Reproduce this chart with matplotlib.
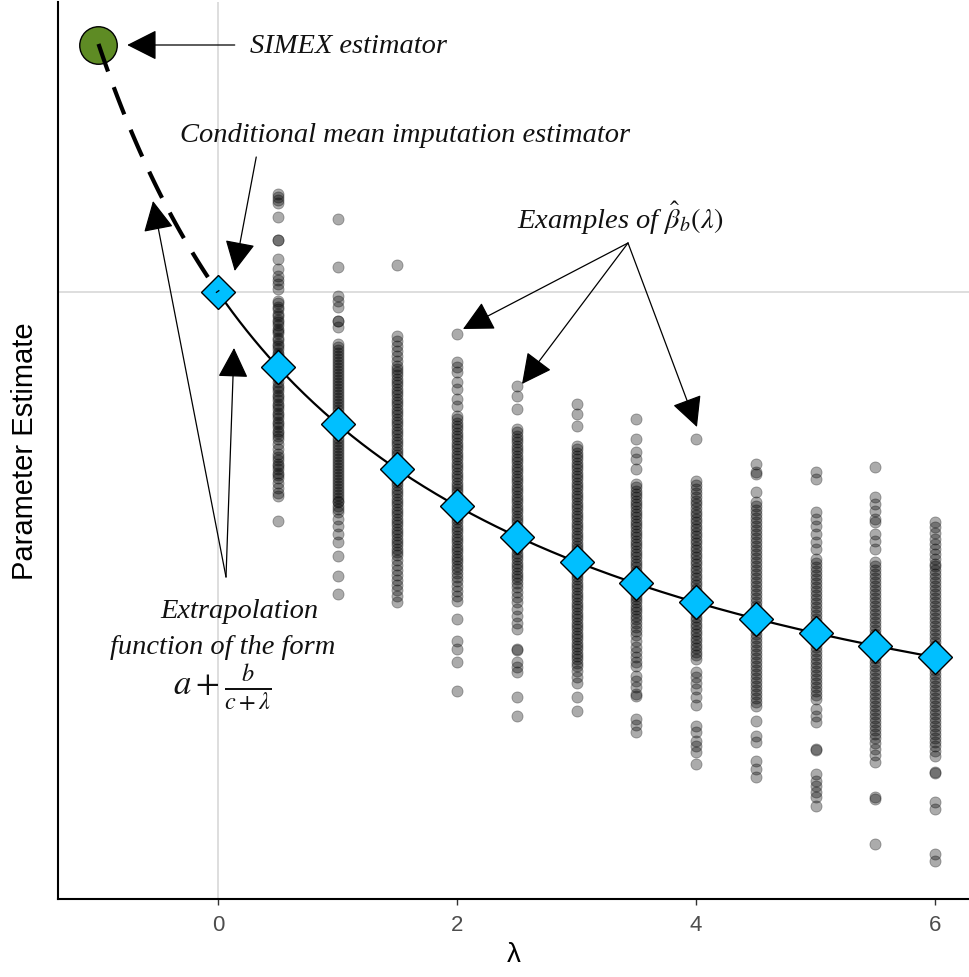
import numpy as np
import matplotlib.pyplot as plt

# mean estimate at each lambda (naive / conditional mean imputation at lambda = 0)
lambdas = [0, 0.5, 1, 1.5, 2, 2.5, 3, 3.5, 4, 4.5, 5, 5.5, 6]
mean_est = [6.07, 5.32, 4.75, 4.30, 3.93, 3.62, 3.37, 3.16, 2.97, 2.80, 2.66, 2.53, 2.42]

simex_lambda = -1
simex_est = 8.54

# bootstrap estimates beta_b(lambda) for each lambda
est_05 = [7.05, 7.02, 6.99, 6.96, 6.82, 6.59, 6.59, 6.40, 6.30, 6.23, 6.19, 6.15, 6.10,
          5.98, 5.96, 5.92, 5.90, 5.85, 5.83, 5.79, 5.77, 5.74, 5.70, 5.68, 5.66, 5.61,
          5.59, 5.55, 5.53, 5.50, 5.46, 5.44, 5.41, 5.37, 5.33, 5.31, 5.27, 5.23, 5.21,
          5.17, 5.13, 5.11, 5.08, 5.04, 5.02, 4.99, 4.95, 4.93, 4.90, 4.86, 4.84, 4.81,
          4.77, 4.75, 4.72, 4.68, 4.66, 4.63, 4.60, 4.55, 4.50, 4.45, 4.42, 4.39, 4.35,
          4.33, 4.30, 4.26, 4.24, 4.21, 4.16, 4.11, 4.06, 4.03, 3.78]
est_10 = [6.80, 6.32, 6.03, 5.98, 5.92, 5.78, 5.78, 5.72,
          5.55, 5.52, 5.49, 5.46, 5.43, 5.40, 5.37, 5.34, 5.31, 5.28, 5.25, 5.22, 5.19,
          5.16, 5.13, 5.10, 5.07, 5.04, 5.01, 4.98, 4.95, 4.92, 4.89, 4.85, 4.81, 4.77,
          4.73, 4.69, 4.65, 4.61, 4.58, 4.55, 4.52, 4.49, 4.46, 4.43, 4.40, 4.37, 4.34,
          4.31, 4.28, 4.25, 4.22, 4.19, 4.16, 4.13, 4.10, 4.07, 4.04, 4.01, 3.98, 3.97,
          3.93, 3.90, 3.87, 3.80, 3.73, 3.65, 3.57, 3.43, 3.23, 3.05]
est_15 = [6.34, 5.63, 5.58, 5.53, 5.48, 5.43, 5.38,
          5.33, 5.30, 5.27, 5.24, 5.20, 5.17, 5.14, 5.10, 5.07, 5.04, 5.00, 4.97, 4.94,
          4.90, 4.87, 4.84, 4.80, 4.77, 4.74, 4.70, 4.67, 4.64, 4.60, 4.57, 4.54, 4.50,
          4.47, 4.44, 4.40, 4.37, 4.34, 4.30, 4.27, 4.24, 4.20, 4.17, 4.14, 4.10, 4.07,
          4.04, 4.00, 3.97, 3.94, 3.90, 3.87, 3.84, 3.80, 3.77, 3.74, 3.70, 3.67, 3.64,
          3.60, 3.57, 3.54, 3.50, 3.47, 3.44,
          3.39, 3.34, 3.29, 3.24, 3.19, 3.14, 3.09, 3.03, 2.97]
est_20 = [5.65, 5.37, 5.32, 5.27, 5.17, 5.10, 5.00, 4.93,
          4.83, 4.80, 4.76, 4.73, 4.70, 4.66, 4.63, 4.60, 4.56, 4.53, 4.50, 4.46, 4.43,
          4.40, 4.36, 4.33, 4.30, 4.26, 4.23, 4.20, 4.16, 4.13, 4.10, 4.07,
          4.03, 3.98, 3.93, 3.88, 3.83,
          3.80, 3.77, 3.73, 3.70, 3.67, 3.63, 3.60, 3.57, 3.53, 3.50, 3.47, 3.43, 3.40,
          3.37, 3.33, 3.30, 3.26, 3.22, 3.18, 3.13, 3.08, 3.03, 2.98,
          2.80, 2.58, 2.50, 2.37, 2.08]
est_25 = [5.13, 5.03, 4.90,
          4.70, 4.67, 4.63, 4.60, 4.57, 4.53, 4.50, 4.47, 4.43, 4.40, 4.37, 4.33, 4.30,
          4.27, 4.23, 4.20, 4.17, 4.13, 4.10, 4.07, 4.03, 4.00, 3.97, 3.93, 3.90, 3.87,
          3.83, 3.80, 3.77, 3.73, 3.70, 3.66, 3.62, 3.58,
          3.53, 3.50, 3.46, 3.43, 3.40, 3.36, 3.33, 3.30, 3.26, 3.23, 3.20, 3.16, 3.12,
          3.07, 3.02, 2.97, 2.90, 2.83, 2.76, 2.70,
          2.50, 2.49, 2.37, 2.32, 2.27, 2.02, 1.83]
est_30 = [4.95, 4.85, 4.73,
          4.53, 4.50, 4.46, 4.43, 4.40, 4.36, 4.33, 4.30, 4.26, 4.23, 4.20, 4.16, 4.13,
          4.10, 4.06, 4.03, 4.00, 3.96, 3.93, 3.90, 3.86, 3.83, 3.80, 3.76, 3.73, 3.70,
          3.66, 3.63, 3.60, 3.56, 3.53, 3.50, 3.46, 3.43, 3.40,
          3.33, 3.30, 3.26, 3.23, 3.20, 3.16, 3.13, 3.10, 3.06, 3.03, 3.00, 2.96, 2.93,
          2.90, 2.86, 2.83, 2.80, 2.76, 2.73, 2.70, 2.66, 2.63, 2.60, 2.56, 2.53, 2.50,
          2.46, 2.43, 2.40, 2.36, 2.33, 2.28, 2.22, 2.16,
          2.02, 1.88]
est_35 = [4.80, 4.60, 4.47, 4.40, 4.30,
          4.15, 4.12, 4.08, 4.05, 4.02, 3.98, 3.95, 3.92, 3.88, 3.85, 3.82, 3.78, 3.75,
          3.72, 3.68, 3.65, 3.62, 3.58, 3.55, 3.52, 3.48, 3.45, 3.42, 3.38, 3.35, 3.32,
          3.28, 3.25, 3.22,
          3.10, 3.07, 3.03, 3.00, 2.97, 2.93, 2.90, 2.87, 2.83, 2.80, 2.76, 2.72, 2.68,
          2.64, 2.58, 2.52, 2.47, 2.42, 2.37, 2.33,
          2.23, 2.18, 2.12, 2.05, 2.03, 1.80, 1.74, 1.67]
est_40 = [4.60,
          4.18, 4.14, 4.10, 4.06, 4.02, 3.98, 3.95, 3.91, 3.87, 3.84, 3.80, 3.77, 3.73,
          3.70, 3.66, 3.63, 3.59, 3.56, 3.52, 3.49, 3.45, 3.42, 3.38, 3.35, 3.31, 3.28,
          3.24, 3.21, 3.17, 3.14, 3.10, 3.07, 3.03, 3.00, 2.96, 2.93, 2.89, 2.86, 2.82,
          2.79, 2.75, 2.72, 2.68, 2.65, 2.61, 2.58, 2.54, 2.51, 2.47, 2.44, 2.40,
          2.27, 2.22, 2.16, 2.10, 2.02, 1.94,
          1.73, 1.67, 1.58, 1.53, 1.47, 1.35]
est_45 = [4.35, 4.27, 4.25, 4.07,
          3.97, 3.93, 3.89, 3.85, 3.81, 3.77, 3.73, 3.69, 3.65, 3.61, 3.57, 3.53, 3.49,
          3.45, 3.41, 3.37, 3.33, 3.29, 3.25, 3.21, 3.17, 3.13, 3.09, 3.05, 3.01, 2.97,
          2.93, 2.89, 2.85, 2.81, 2.77, 2.73, 2.69, 2.65, 2.61, 2.57, 2.53, 2.49, 2.45,
          2.41, 2.37, 2.33, 2.29, 2.25, 2.21, 2.17, 2.13, 2.09, 2.05, 2.01, 1.97, 1.93,
          1.78, 1.63, 1.57, 1.38, 1.30, 1.22]
est_50 = [4.27, 4.20, 3.87, 3.80, 3.73, 3.65, 3.57, 3.50,
          3.40, 3.36, 3.32, 3.28, 3.24, 3.20, 3.16, 3.12, 3.08, 3.04, 3.00, 2.96, 2.92,
          2.88, 2.84, 2.80, 2.76, 2.72, 2.68, 2.64, 2.60, 2.56, 2.52, 2.48, 2.44, 2.40,
          2.36, 2.32, 2.28, 2.24, 2.20, 2.16, 2.12, 2.08, 2.04, 2.00,
          1.90, 1.83, 1.77, 1.50, 1.49, 1.25, 1.18, 1.13, 1.07, 1.02, 0.93]
est_55 = [4.32, 4.02, 3.95, 3.88, 3.80, 3.77, 3.65, 3.58, 3.50,
          3.37, 3.33, 3.29, 3.25, 3.21, 3.17, 3.13, 3.09, 3.05, 3.01, 2.97, 2.93, 2.89,
          2.85, 2.81, 2.77, 2.73, 2.69, 2.65, 2.61, 2.57, 2.53, 2.49, 2.45, 2.41, 2.37,
          2.33, 2.29, 2.25, 2.21, 2.17, 2.13, 2.09, 2.05, 2.01, 1.97, 1.93, 1.89, 1.85,
          1.81, 1.77, 1.73, 1.69, 1.65, 1.61, 1.56, 1.50, 1.44, 1.37,
          1.02, 1.00, 0.55]
est_60 = [3.77, 3.72, 3.66, 3.60, 3.55, 3.50, 3.45, 3.40, 3.35,
          3.33, 3.29, 3.25, 3.21, 3.17, 3.13, 3.09, 3.05, 3.01, 2.97, 2.93, 2.89, 2.85,
          2.81, 2.77, 2.73, 2.69, 2.65, 2.61, 2.57, 2.53, 2.49, 2.45, 2.41, 2.37, 2.33,
          2.29, 2.25, 2.21, 2.17, 2.13, 2.09, 2.05, 2.01, 1.97, 1.93, 1.89, 1.85, 1.81,
          1.77, 1.73, 1.69, 1.65, 1.61, 1.57, 1.53, 1.48, 1.43,
          1.27, 1.26, 0.97, 0.90, 0.45, 0.38]

boot_lambdas = [0.5, 1, 1.5, 2, 2.5, 3, 3.5, 4, 4.5, 5, 5.5, 6]
boot_est = [est_05, est_10, est_15, est_20, est_25, est_30,
            est_35, est_40, est_45, est_50, est_55, est_60]

plt.rcParams['mathtext.fontset'] = 'stix'
note = dict(family='Liberation Serif', style='italic', fontsize=20.5, color='#111111')

fig = plt.figure(figsize=(9.69, 9.78), dpi=100)
ax = fig.add_axes([58 / 969, 78 / 978, 911 / 969, 897 / 978])

# reference lines through lambda = 0 and the naive estimate
ax.axvline(0, color='#d4d4d4', lw=1.1, zorder=0)
ax.axhline(mean_est[0], color='#d4d4d4', lw=1.1, zorder=0)

for lam, vals in zip(boot_lambdas, boot_est):
    ax.scatter(np.full(len(vals), lam), vals, s=64, color='black', alpha=0.33,
               linewidths=0.6, edgecolors='black', zorder=2)

# fit a + b / (c + lambda) to the mean estimates
lam_arr = np.array(lambdas)
est_arr = np.array(mean_est)
best = None
for c in np.linspace(0.2, 15, 3000):
    X = np.column_stack([np.ones_like(lam_arr), 1 / (c + lam_arr)])
    coef = np.linalg.lstsq(X, est_arr, rcond=None)[0]
    sse = ((X @ coef - est_arr) ** 2).sum()
    if best is None or sse < best[0]:
        best = (sse, coef[0], coef[1], c)
_, a, b, c = best

lam_fit = np.linspace(0, 6, 300)
ax.plot(lam_fit, a + b / (c + lam_fit), color='black', lw=1.6, zorder=3)
lam_ext = np.linspace(simex_lambda, 0, 100)
ax.plot(lam_ext, a + b / (c + lam_ext), color='black', lw=3, linestyle=(0, (7, 4)),
        solid_capstyle='butt', zorder=6)

ax.plot(lambdas, mean_est, 'D', ms=17, mfc='#00BFFF', mec='black', mew=1, zorder=4)
ax.plot(simex_lambda, simex_est, 'o', ms=27, mfc='#5E8B24', mec='black', mew=1, zorder=5)

# annotations
arrow = dict(arrowstyle='-|>,head_length=0.95,head_width=0.48', mutation_scale=20,
             color='black', lw=0.9, shrinkA=0, shrinkB=0)

ax.text(0.27, 8.54, 'SIMEX estimator', ha='left', va='center', **note)
ax.annotate('', xy=(-0.76, 8.54), xytext=(0.14, 8.54), arrowprops=arrow, zorder=7)

ax.text(1.565, 7.65, 'Conditional mean imputation estimator', ha='center', va='center', **note)
ax.annotate('', xy=(0.14, 6.28), xytext=(0.32, 7.42), arrowprops=arrow, zorder=7)

ax.text(2.5, 6.82, r'Examples of $\hat{\beta}_b(\lambda)$', ha='left', va='center', **note)
for tip in [(2.05, 5.70), (2.544, 5.15), (4.008, 4.72)]:
    ax.annotate('', xy=tip, xytext=(3.431, 6.56), arrowprops=arrow, zorder=7)

ax.text(0.18, 2.88, 'Extrapolation', ha='center', va='center', **note)
ax.text(0.04, 2.52, 'function of the form', ha='center', va='center', **note)
ax.text(0.035, 2.12, r'$a + \frac{b}{c+\lambda}$', ha='center', va='center',
        family='Liberation Serif', fontsize=25, color='#111111')
for tip in [(-0.544, 6.98), (0.134, 5.51)]:
    ax.annotate('', xy=tip, xytext=(0.067, 3.22), arrowprops=arrow, zorder=7)

ax.set_xlim((58 - 218) / 119.5, (969 - 218) / 119.5)
ax.set_ylim(0, 8.97)
ax.set_xticks([0, 2, 4, 6])
ax.set_yticks([])
ax.tick_params(axis='x', length=4, width=1, color='#333333', labelsize=16,
               labelcolor='#4d4d4d', pad=7)
for lab in ax.get_xticklabels():
    lab.set_family('Liberation Sans')
ax.spines[['top', 'right']].set_visible(False)
ax.spines[['left', 'bottom']].set_linewidth(1.5)

ax.set_xlabel('λ', fontsize=20, family='Liberation Sans', labelpad=4)
ax.set_ylabel('Parameter Estimate', fontsize=21, family='Liberation Sans', labelpad=14)

fig.savefig('out.png', dpi=100)
